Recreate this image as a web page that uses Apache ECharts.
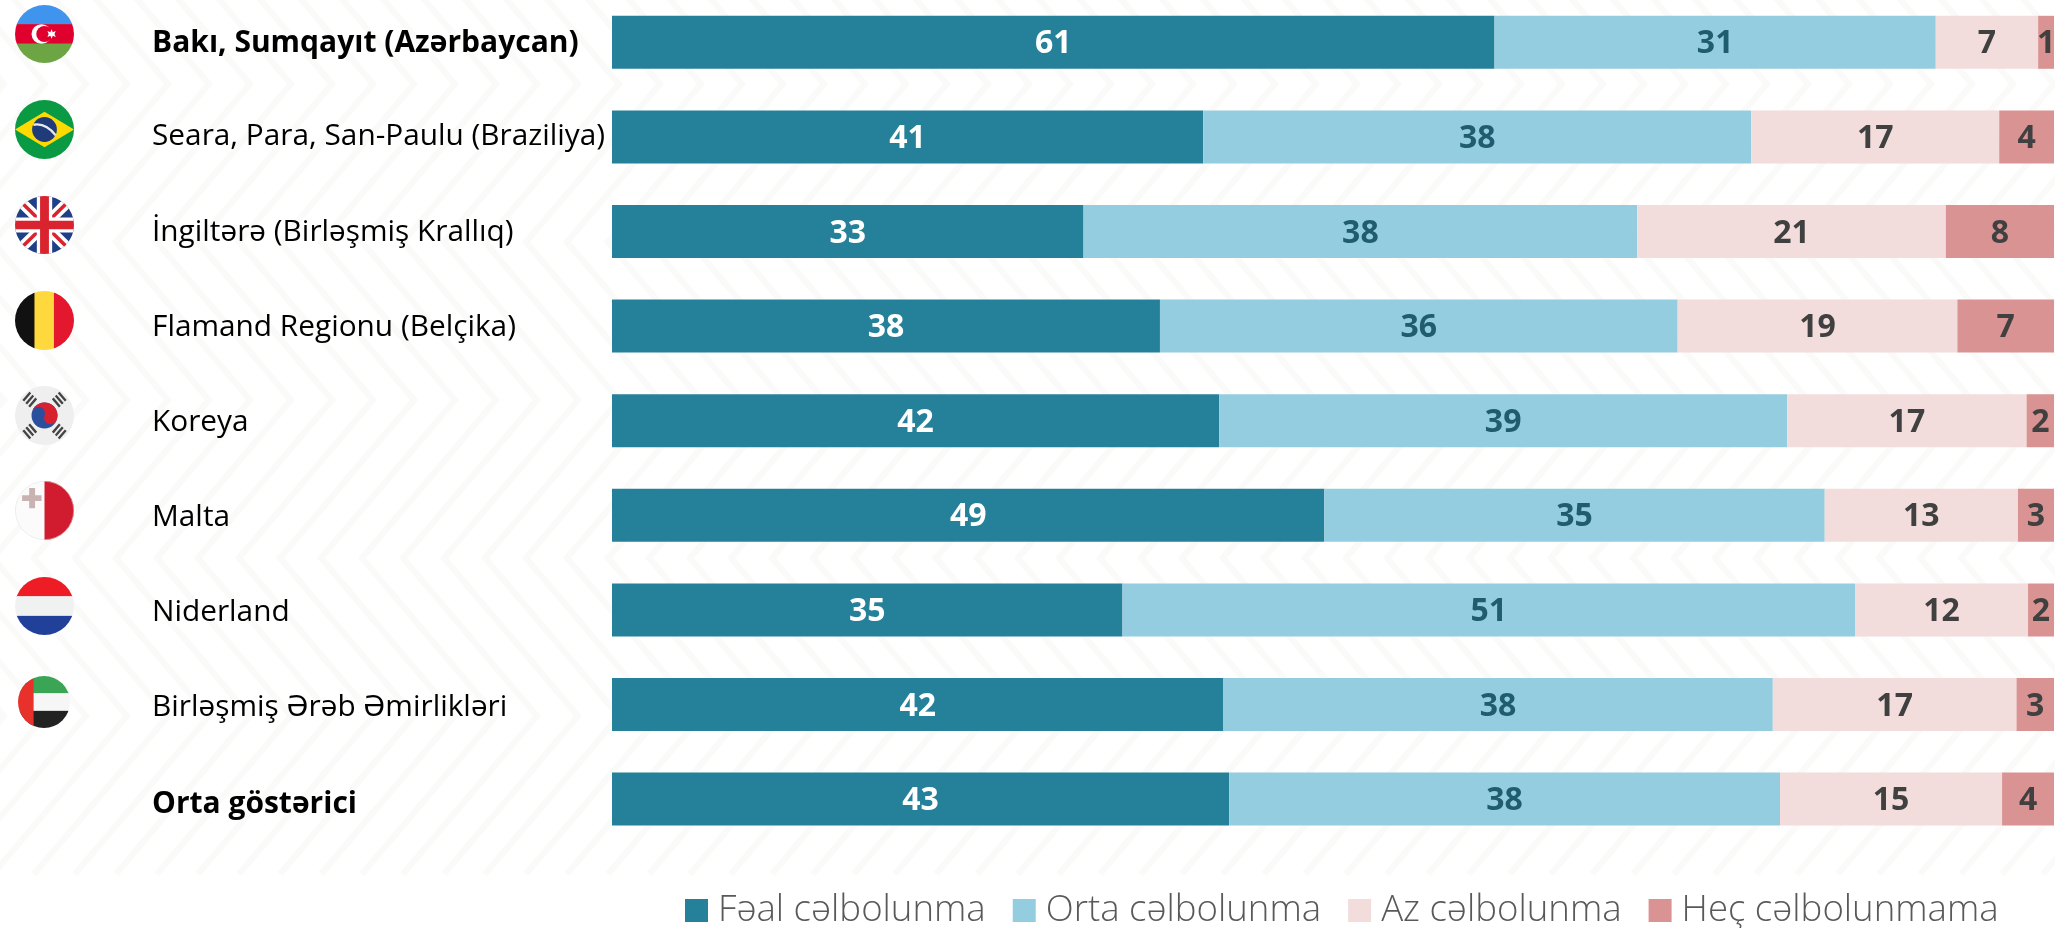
<!DOCTYPE html>
<html><head><meta charset="utf-8">
<style>html,body{margin:0;padding:0;background:#fff;overflow:hidden}#c{width:2055px;height:928px}</style>
<script src="https://cdn.jsdelivr.net/npm/echarts@6/dist/echarts.min.js"></script>
</head><body><div id="c"></div>
<script>
const categories = ["Bakı, Sumqayıt (Azərbaycan)","Seara, Para, San-Paulu (Braziliya)","İngiltərə (Birləşmiş Krallıq)","Flamand Regionu (Belçika)","Koreya","Malta","Niderland","Birləşmiş Ərəb Əmirlikləri","Orta göstərici"];
const boldCategories = ["Bakı, Sumqayıt (Azərbaycan)","Orta göstərici"];
const seriesNames = ["Fəal cəlbolunma","Orta cəlbolunma","Az cəlbolunma","Heç cəlbolunmama"];
const feal = [61.2,41.0,32.7,38.0,42.1,49.4,35.4,42.4,42.8];
const orta = [30.6,38.0,38.4,35.9,39.4,34.7,50.8,38.1,38.2];
const az   = [7.1,17.2,21.4,19.4,16.6,13.4,12.0,16.9,15.4];
const hec  = [1.1,3.8,7.5,6.7,1.9,2.5,1.8,2.6,3.6];
const colors = ["#25809a","#94cddf","#f2dcdc","#d99392"];
const labelColors = ["#ffffff","#1f5c70","#404040","#404040"];
const FONT = "'Open Sans','Noto Sans',sans-serif";

const clip = (body,w=59,h=58)=>`data:image/svg+xml;charset=utf-8,`+encodeURIComponent(
 `<svg xmlns="http://www.w3.org/2000/svg" width="${w*2}" height="${h*2}" viewBox="0 0 100 100" preserveAspectRatio="none"><defs><clipPath id="k"><circle cx="50" cy="50" r="50"/></clipPath></defs><g clip-path="url(#k)">${body}</g></svg>`);
const flags = [
 {x:15,y:5,w:59,h:58,svg:`<rect width="100" height="34" fill="#3f95ee"/><rect y="33" width="100" height="34" fill="#e0002d"/><rect y="67" width="100" height="33" fill="#6da544"/><circle cx="45" cy="50" r="17" fill="#fff"/><circle cx="50" cy="50" r="14" fill="#e0002d"/><path d="M62 42L64 47L69 45L67 50L69 55L64 53L62 58L60 53L55 55L57 50L55 45L60 47Z" fill="#fff"/>`},
 {x:15,y:100,w:59,h:59,svg:`<rect width="100" height="100" fill="#0a9a43"/><path d="M0 50L50 20L100 50L50 80Z" fill="#ffda00"/><circle cx="50" cy="50" r="21" fill="#1f3b7a"/><path d="M31 42Q52 38 69 60" stroke="#e8e8e8" stroke-width="4" fill="none"/>`},
 {x:15,y:196,w:59,h:58,svg:`<rect width="100" height="100" fill="#1f3f87"/><path d="M0 0L100 100M100 0L0 100" stroke="#fff" stroke-width="18"/><path d="M0 0L100 100M100 0L0 100" stroke="#d9232e" stroke-width="6"/><path d="M50 0V100M0 50H100" stroke="#fff" stroke-width="26"/><path d="M50 0V100M0 50H100" stroke="#d9232e" stroke-width="15"/>`},
 {x:15,y:291,w:59,h:59,svg:`<rect width="34" height="100" fill="#111"/><rect x="33" width="34" height="100" fill="#ffd83d"/><rect x="66" width="34" height="100" fill="#e3172e"/>`},
 {x:15,y:386,w:59,h:59,svg:`<rect width="100" height="100" fill="#efefef"/><circle cx="50" cy="50" r="22" fill="#2a4f9e"/><path d="M28 50A22 22 0 0 1 72 50A11 11 0 0 1 50 50A11 11 0 0 0 28 50Z" fill="#d8202f" transform="rotate(20 50 50)"/><g stroke="#444" stroke-width="4"><path d="M14 25L26 11M19 30L31 16M24 35L36 21"/><path d="M64 21L76 35M69 16L81 30M74 11L86 25"/><path d="M14 75L26 89M19 70L31 84M24 65L36 79"/><path d="M64 79L76 65M69 84L81 70M74 89L86 75"/></g>`},
 {x:15,y:481,w:59,h:59,svg:`<rect width="50" height="100" fill="#fbfbfb"/><rect x="50" width="50" height="100" fill="#d01c2e"/><circle cx="50" cy="50" r="49.5" fill="none" stroke="#ddd" stroke-width="1"/><path d="M24 12h10v12h11v10h-11v12h-10v-12h-12v-10h12z" fill="#c9b2b2"/>`},
 {x:15,y:577,w:59,h:58,svg:`<rect width="100" height="34" fill="#ee1c25"/><rect y="33" width="100" height="34" fill="#f0f2f2"/><rect y="67" width="100" height="33" fill="#21409a"/>`},
 {x:18,y:676,w:52,h:52,svg:`<rect width="100" height="34" fill="#3aa655"/><rect y="33" width="100" height="34" fill="#f6f6f6"/><rect y="67" width="100" height="33" fill="#222"/><rect width="30" height="100" fill="#e8312a"/>`}
];

const chevrons = [];
const period = 41, halfH = 158, dx = 134;
for (let k=-6;k<60;k++){
  const pts=[];
  for (let i=-1;i<7;i++){
    const y = 84 - 158 + (i)*halfH;
    pts.push([ k*period + (660 % period) + (((i%2)+2)%2===1 ? 0 : -dx), y ]);
  }
  chevrons.push({type:'polyline',silent:true,z:0,shape:{points:pts},style:{stroke:'#fafaf8',lineWidth:6,fill:null}});
}
const flagEls = flags.map(f=>({type:'image',silent:true,z:1,style:{image:clip(f.svg,f.w,f.h),x:f.x,y:f.y,width:f.w,height:f.h}}));

// slight extra downward shift of each row label, as in the reference
const labelShift = [1,0,1,1,2,2,3,3,5];
const rich = {};
labelShift.forEach((s,i)=>{
  rich['r'+i]={fontFamily:FONT,fontSize:29.8,color:'#000',padding:[s*2,0,0,0]};
  rich['b'+i]={fontFamily:FONT,fontSize:30,color:'#000',fontWeight:'bold',padding:[s*2,0,0,0]};
});

const values=[feal,orta,az,hec];
const chart = echarts.init(document.getElementById('c'),null,{renderer:'canvas'});
chart.setOption({
  animation:false,
  backgroundColor:'#ffffff',
  graphic:{elements:[...chevrons,...flagEls]},
  grid:{left:612,width:1442,top:-5,height:851.4,containLabel:false,outerBoundsMode:'none'},
  xAxis:{type:'value',min:0,max:100,show:false},
  yAxis:{type:'category',inverse:true,data:categories,
    axisLine:{show:false},axisTick:{show:false},
    axisLabel:{align:'left',margin:460,color:'#000',fontFamily:FONT,fontSize:30,
      formatter:(v,i)=>`{${boldCategories.includes(v)?'b':'r'}${i}|${v}}`,
      rich}},
  legend:{left:680,top:887,itemWidth:23,itemHeight:23,itemGap:27,icon:'rect',
    data:seriesNames,textStyle:{fontFamily:FONT,fontWeight:300,fontSize:36.6,color:'#595959',padding:[0,0,0,5]}},
  series:seriesNames.map((n,i)=>({
    name:n,type:'bar',stack:'t',barWidth:53,data:values[i],
    itemStyle:{color:colors[i]},
    label:{show:true,position:'inside',offset:[0,2],color:labelColors[i],fontFamily:FONT,fontWeight:'bold',fontSize:32,
      formatter:p=>Math.round(p.value)}
  }))
});
</script></body></html>
